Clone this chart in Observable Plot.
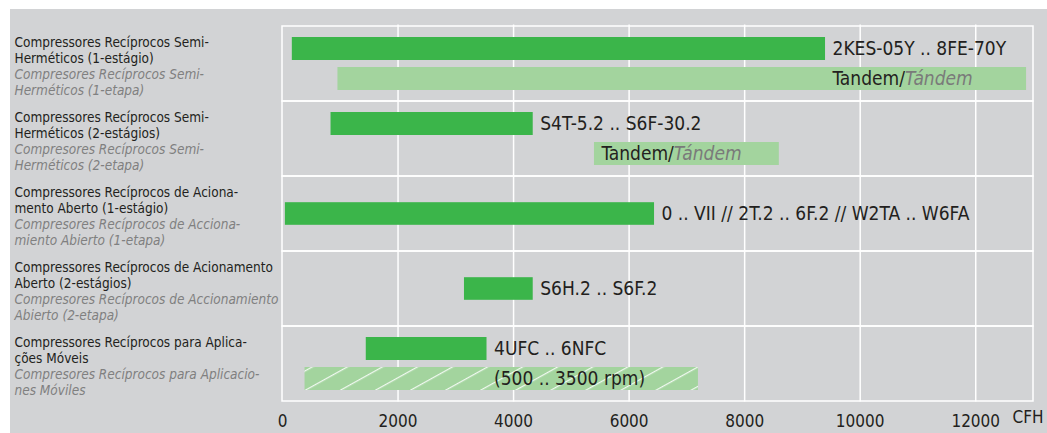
<!DOCTYPE html>
<html><head><meta charset="utf-8">
<script src="https://cdn.jsdelivr.net/npm/d3@7"></script>
<script src="https://cdn.jsdelivr.net/npm/@observablehq/plot@0.6"></script>
<style>
html,body{margin:0;padding:0;background:#fff;}
#chart{position:absolute;left:10px;top:9px;width:1037px;height:424px;background:#d2d3d5;}
</style></head><body><div id="chart"></div>
<script>
// ---- data ----
const rowKeys = ["r1", "r2", "r3", "r4", "r5"];
const rowLabelsPT = [
  "Compressores Recíprocos Semi-\nHerméticos (1-estágio)",
  "Compressores Recíprocos Semi-\nHerméticos (2-estágios)",
  "Compressores Recíprocos de Aciona-\nmento Aberto (1-estágio)",
  "Compressores Recíprocos de Acionamento\nAberto (2-estágios)",
  "Compressores Recíprocos para Aplica-\nções Móveis"
];
const rowLabelsES = [
  "Compresores Recíprocos Semi-\nHerméticos (1-etapa)",
  "Compresores Recíprocos Semi-\nHerméticos (2-etapa)",
  "Compresores Recíprocos de Acciona-\nmiento Abierto (1-etapa)",
  "Compresores Recíprocos de Accionamiento\nAbierto (2-etapa)",
  "Compresores Recíprocos para Aplicacio-\nnes Móviles"
];
const mainStart = [170, 840, 50, 3150, 1450];
const mainEnd = [9400, 4340, 6440, 4340, 3540];
const mainLabels = ["2KES-05Y .. 8FE-70Y", "S4T-5.2 .. S6F-30.2", "0 .. VII // 2T.2 .. 6F.2 // W2TA .. W6FA", "S6H.2 .. S6F.2", "4UFC .. 6NFC"];
const secondRow = ["r1", "r2", "r5"];
const secondStart = [960, 5400, 390];
const secondEnd = [12880, 8600, 7200];
const secondLabels = ["Tandem/Tándem", "Tandem/Tándem", "(500 .. 3500 rpm)"];
const secondHatched = [false, false, true];
const xTicks = [0, 2000, 4000, 6000, 8000, 10000, 12000];
const xMax = 13000;
const unitLabel = "CFH";

// ---- derived tables ----
const mainData = rowKeys.map((r, i) => ({row: r, start: mainStart[i], end: mainEnd[i], label: mainLabels[i], paired: secondRow.includes(r)}));
const secondData = secondRow.map((r, i) => {
  const m = mainData.find(d => d.row === r);
  return {row: r, start: secondStart[i], end: secondEnd[i], label: secondLabels[i], hatched: secondHatched[i], labelAt: Math.max(secondStart[i], m.end)};
});
const rowsTable = rowKeys.map((r, i) => ({row: r, pt: rowLabelsPT[i], es: rowLabelsES[i]}));

const DARK = "#3bb54a", LIGHT = "#a3d49e", TXT = "#231f20", GREY = "#808080";
const FONT = "'DejaVu Sans Condensed', 'DejaVu Sans', sans-serif";

const svg = Plot.plot({
  width: 1037, height: 424,
  marginLeft: 272, marginRight: 14, marginTop: 15.5, marginBottom: 31.5,
  x: {domain: [0, xMax], ticks: xTicks, tickSize: 0, tickPadding: 13, tickFormat: d => String(d), label: null},
  y: {domain: rowKeys, padding: 0, axis: null},
  style: {background: "#d2d3d5", fontFamily: FONT, fontSize: "17px", color: TXT, overflow: "visible"},
  marks: [
    Plot.ruleX(xTicks.filter(t => t > 0), {stroke: "white", strokeWidth: 1.5}),
    Plot.barX(rowKeys, {y: d => d, x1: 0, x2: xMax, fill: "none", stroke: "white", strokeWidth: 1.5}),
    Plot.barX(mainData.filter(d => d.paired), {y: "row", x1: "start", x2: "end", fill: DARK, insetTop: 11, insetBottom: 41}),
    Plot.barX(mainData.filter(d => !d.paired), {y: "row", x1: "start", x2: "end", fill: DARK, insetTop: 26.2, insetBottom: 26.2}),
    Plot.barX(secondData.filter(d => !d.hatched), {y: "row", x1: "start", x2: "end", fill: LIGHT, insetTop: 41, insetBottom: 11}),
    Plot.barX(secondData.filter(d => d.hatched), {y: "row", x1: "start", x2: "end", fill: "url(#hatch)", insetTop: 41, insetBottom: 11}),
    Plot.text(mainData.filter(d => d.paired), {y: "row", x: "end", text: "label", textAnchor: "start", dx: 7, dy: -15, fontSize: 19, fill: TXT}),
    Plot.text(mainData.filter(d => !d.paired), {y: "row", x: "end", text: "label", textAnchor: "start", dx: 7, dy: 0, fontSize: 19, fill: TXT}),
    Plot.text(secondData, {y: "row", x: "labelAt", text: "label", textAnchor: "start", dx: 7, dy: 15, fontSize: 19, fill: TXT}),
    Plot.text(rowsTable, {y: "row", text: "pt", frameAnchor: "left", textAnchor: "start", dx: -268, dy: -14, lineHeight: 1.185, fontSize: 13.5, fill: TXT}),
    Plot.text(rowsTable, {y: "row", text: "es", frameAnchor: "left", textAnchor: "start", dx: -268, dy: 18, lineHeight: 1.185, fontSize: 13.5, fill: GREY, fontStyle: "italic"}),
    Plot.text([unitLabel], {frameAnchor: "bottom-right", textAnchor: "end", dx: 10, dy: 21, fontSize: 17, fill: TXT})
  ]
});

// hatch pattern
const defs = d3.select(svg).insert("defs", ":first-child");
const pat = defs.append("pattern").attr("id", "hatch").attr("patternUnits", "userSpaceOnUse")
  .attr("width", 20).attr("height", 17).attr("patternTransform", "rotate(-29)");
pat.append("rect").attr("width", 20).attr("height", 17).attr("fill", LIGHT);
pat.append("line").attr("x1", 0).attr("x2", 20).attr("y1", 0.6).attr("y2", 0.6)
  .attr("stroke", "white").attr("stroke-opacity", 0.85).attr("stroke-width", 1.2);

// mixed-style "Tandem/Tándem"
d3.select(svg).selectAll("text").filter(function () { return this.textContent === "Tandem/Tándem"; })
  .each(function () {
    const t = d3.select(this);
    t.text(null);
    t.append("tspan").text("Tandem/");
    t.append("tspan").attr("font-style", "italic").attr("fill", "#7a7a7a").text("Tándem");
  });

document.getElementById("chart").appendChild(svg);
</script>
</body></html>
